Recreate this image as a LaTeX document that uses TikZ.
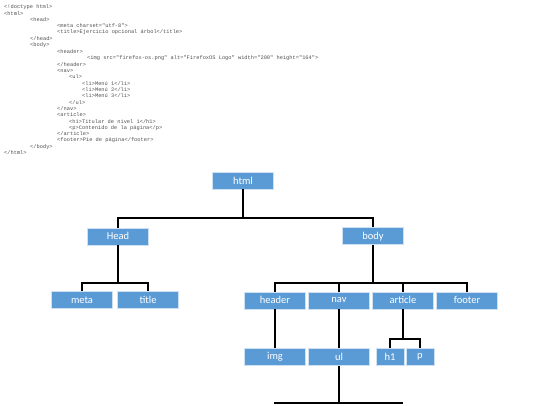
\documentclass[tikz,border=0pt]{standalone}
\usepackage{fontspec}
\newfontfamily\codefont{Liberation Mono}
\newfontfamily\boxfont{Carlito}
\definecolor{boxblue}{HTML}{5B9BD5}
\definecolor{codegray}{HTML}{505050}
\begin{document}
\begin{tikzpicture}[x=1pt,y=-1pt,
  box/.style={rectangle, fill=boxblue, draw=white!70!boxblue, line width=0.5pt,
    minimum width=61pt, minimum height=17pt, inner sep=0pt,
    text=white, font=\boxfont\fontsize{10.5}{12}\selectfont},
  smallbox/.style={box, minimum width=28pt},
  conn/.style={draw=black, line width=1.8pt},
  code/.style={anchor=west, inner sep=0pt, text=codegray,
    font=\codefont\fontsize{5.35}{6}\selectfont}]
\useasboundingbox (0,0) rectangle (540,405);
% source code
\node[code] (c0)  at (4,7.0)   {<!doctype html>};
\node[code] (c1)  at (4,13.35) {<html>};
\node[code] (c2)  at (30,19.7) {<head>};
\node[code] (c3)  at (57,26.05) {<meta charset="utf-8">};
\node[code] (c4)  at (57,32.4) {<title>Ejercicio opcional árbol</title>};
\node[code] (c5)  at (30,38.75) {</head>};
\node[code] (c6)  at (30,45.1) {<body>};
\node[code] (c7)  at (57,51.45) {<header>};
\node[code] (c8)  at (87,57.8) {<img src="firefox-os.png" alt="FirefoxOS Logo" width="200" height="164">};
\node[code] (c9)  at (57,64.15) {</header>};
\node[code] (c10) at (57,70.5) {<nav>};
\node[code] (c11) at (69,76.85) {<ul>};
\node[code] (c12) at (82,83.2) {<li>Menú 1</li>};
\node[code] (c13) at (82,89.55) {<li>Menú 2</li>};
\node[code] (c14) at (82,95.9) {<li>Menú 3</li>};
\node[code] (c15) at (69,102.25) {</ul>};
\node[code] (c16) at (57,108.6) {</nav>};
\node[code] (c17) at (57,114.95) {<article>};
\node[code] (c18) at (69,121.3) {<h1>Titular de nivel 1</h1>};
\node[code] (c19) at (69,127.65) {<p>Contenido de la página</p>};
\node[code] (c20) at (57,134.0) {</article>};
\node[code] (c21) at (57,140.35) {<footer>Pie de página</footer>};
\node[code] (c22) at (30,146.7) {</body>};
\node[code] (c23) at (4,153.05) {</html>};
% tree nodes
\node[box] (html) at (243,180.5) {html};
\node[box] (Head) at (118,236.3) {Head};
\node[box] (body) at (373,236.2) {body};
\node[box] (meta) at (82,300) {meta};
\node[box] (title) at (148,300) {title};
\node[box] (header) at (275,300.3) {header};
\node[box] (nav) at (339,300.3) {nav};
\node[box] (article) at (403,300.3) {article};
\node[box] (footer) at (467,300.3) {footer};
\node[box] (img) at (275,357) {img};
\node[box] (ul) at (339,357) {ul};
\node[smallbox] (h1) at (390,357) {h1};
\node[smallbox] (p) at (420,357) {p};
% junction levels
\coordinate (y1) at (0,218);
\coordinate (y2) at (0,283);
\coordinate (y3) at (0,339);
\coordinate (y4) at (0,403);
\coordinate (liL) at (274,403);
\coordinate (liR) at (403,403);
% connectors
\draw[conn] (html.south) -- (html.south |- y1);
\draw[conn] (Head.north) |- (body.north |- y1) -- (body.north);
\draw[conn] (Head.south) -- (Head.south |- y2);
\draw[conn] (meta.north) |- (title.north |- y2) -- (title.north);
\draw[conn] (body.south) -- (body.south |- y2);
\draw[conn] (header.north) |- (footer.north |- y2) -- (footer.north);
\draw[conn] (nav.north) -- (nav.north |- y2);
\draw[conn] (article.north) -- (article.north |- y2);
\draw[conn] (header.south) -- (img.north);
\draw[conn] (nav.south) -- (ul.north);
\draw[conn] (article.south) -- (article.south |- y3);
\draw[conn] (h1.north) |- (p.north |- y3) -- (p.north);
\draw[conn] (ul.south) -- (ul.south |- y4);
\draw[conn] (liL) -- (liR);
\end{tikzpicture}
\end{document}
